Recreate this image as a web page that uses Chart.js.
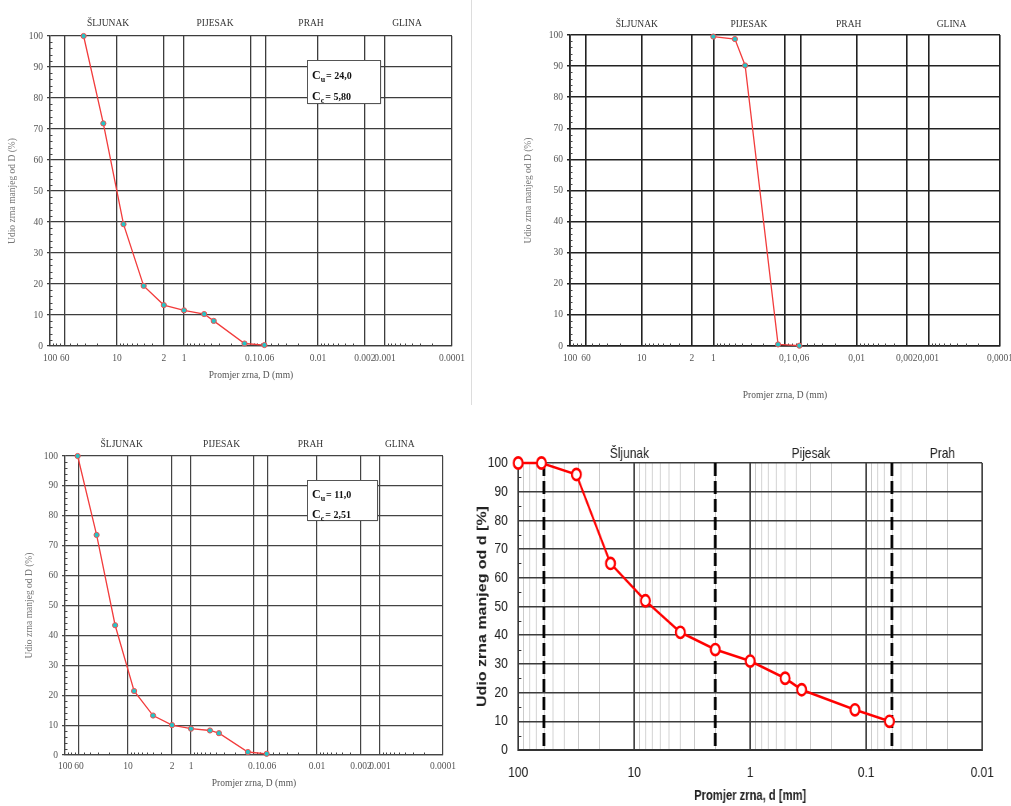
<!DOCTYPE html>
<html>
<head>
<meta charset="utf-8">
<script src="https://cdn.jsdelivr.net/npm/chart.js@4.4.1/dist/chart.umd.min.js"></script>
<style>
  body { margin: 0; background: #fff; width: 1011px; height: 806px; position: relative; overflow: hidden; }
  .pane { position: absolute; }
  #sep { position: absolute; left: 471px; top: 0; width: 1px; height: 405px; background: #ddd; }
  #paneD { left: 475px; top: 430px; transform: scaleX(0.8); transform-origin: 0 0; }
</style>
</head>
<body>
<div class="pane" style="left:0;top:0"><canvas id="c1" width="470" height="400"></canvas></div>
<div id="sep"></div>
<div class="pane" style="left:500px;top:0"><canvas id="c2" width="511" height="410"></canvas></div>
<div class="pane" style="left:0;top:420px"><canvas id="c3" width="470" height="386"></canvas></div>
<div class="pane" id="paneD"><canvas id="c4" width="670" height="376"></canvas></div>
<script>
// sieve sizes (mm) and percent passing for each sample
const sieve1 = [31.5, 16, 8, 4, 2, 1, 0.5, 0.36, 0.125, 0.063];
const pass1 = [100, 71.8, 39.3, 19.4, 13.2, 11.5, 10.3, 8.1, 0.8, 0.3];

const sieve2 = [1, 0.5, 0.36, 0.125, 0.063];
const pass2 = [99.5, 98.7, 90.2, 0.5, 0.1];

const sieve3 = [63, 31.5, 16, 8, 4, 2, 1, 0.5, 0.36, 0.125, 0.063];
const pass3 = [100, 73.6, 43.4, 21.4, 13.2, 10.0, 8.8, 8.2, 7.3, 1.0, 0.4];

const sieve4 = [100, 63, 31.5, 16, 8, 4, 2, 1, 0.5, 0.36, 0.125, 0.063];
const pass4 = [100, 100, 96, 65, 52, 41, 35, 31, 25, 21, 14, 10];

// axis ticks
const xTicks = [100, 60, 10, 2, 1, 0.1, 0.06, 0.01, 0.002, 0.001, 0.0001];
const xLabelsDot = ['100', '60', '10', '2', '1', '0.1', '0.06', '0.01', '0.002', '0.001', '0.0001'];
const xLabelsComma = ['100', '60', '10', '2', '1', '0,1', '0,06', '0,01', '0,002', '0,001', '0,0001'];
const yTicks = [0, 10, 20, 30, 40, 50, 60, 70, 80, 90, 100];
const decadesD = [100, 10, 1, 0.1, 0.01];
const decadeLabelsD = ['100', '10', '1', '0.1', '0.01'];

// soil fractions
const zonesUpper = ['ŠLJUNAK', 'PIJESAK', 'PRAH', 'GLINA'];
const zonesD = ['Šljunak', 'Pijesak', 'Prah'];
const boundsD = [60, 2, 0.06];

// uniformity / curvature coefficients
const coef1 = ['24,0', '5,80'];
const coef3 = ['11,0', '2,51'];

const SERIF = '"Liberation Serif", "Times New Roman", serif';
const SANS = '"Liberation Sans", Arial, sans-serif';

// small log ticks between the labelled grid lines
function minorLog(lo, hi, skip) {
  const out = [];
  for (let e = Math.floor(Math.log10(lo)); e < Math.log10(hi); e++) {
    for (let k = 2; k <= 9; k++) {
      const v = k * Math.pow(10, e);
      if (v > lo && v < hi && !skip.some(s => Math.abs(s - v) / s < 1e-6)) out.push(v);
    }
  }
  return out;
}

const decor = {
  id: 'decor',
  beforeDatasetsDraw(chart, args, o) {
    const { ctx, chartArea: a, scales: { x, y } } = chart;
    ctx.save();
    ctx.strokeStyle = o.tickColor;
    ctx.lineWidth = 1;
    ctx.beginPath();
    (o.yMinor || []).forEach(v => {
      const py = Math.round(y.getPixelForValue(v)) + 0.5;
      ctx.moveTo(a.left, py);
      ctx.lineTo(a.left + o.tickLen, py);
    });
    (o.xMinor || []).forEach(v => {
      const px = Math.round(x.getPixelForValue(v)) + 0.5;
      ctx.moveTo(px, a.bottom);
      ctx.lineTo(px, a.bottom - o.tickLen);
    });
    ctx.stroke();
    if (o.dashed) {
      ctx.strokeStyle = '#000';
      ctx.lineWidth = o.dashWidth;
      ctx.setLineDash(o.dash);
      ctx.beginPath();
      o.dashed.forEach(v => {
        const px = x.getPixelForValue(v);
        ctx.moveTo(px, a.top);
        ctx.lineTo(px, a.bottom);
      });
      ctx.stroke();
    }
    ctx.restore();
  },
  afterDraw(chart, args, o) {
    const { ctx, chartArea: a, scales: { x } } = chart;
    ctx.save();
    ctx.font = o.zoneFont;
    ctx.fillStyle = o.zoneColor;
    ctx.textAlign = 'center';
    ctx.textBaseline = 'middle';
    o.zones.forEach((name, i) => ctx.fillText(name, x.getPixelForValue(o.zoneAt[i]), a.top - o.zoneGap));

    const c = o.coef;
    if (c) {
      const bx = Math.round(a.left + c.fx * (a.right - a.left));
      const by = Math.round(a.top + c.fy * (a.bottom - a.top));
      ctx.shadowColor = 'rgba(0,0,0,0.4)';
      ctx.shadowOffsetX = 1;
      ctx.shadowOffsetY = 1;
      ctx.shadowBlur = 1;
      ctx.fillStyle = '#fff';
      ctx.fillRect(bx, by, c.w, c.h);
      ctx.shadowColor = 'transparent';
      ctx.strokeStyle = '#555';
      ctx.lineWidth = 1;
      ctx.strokeRect(bx + 0.5, by + 0.5, c.w, c.h);
      ctx.fillStyle = '#111';
      ctx.textAlign = 'left';
      ctx.textBaseline = 'alphabetic';
      [['u', c.values[0]], ['c', c.values[1]]].forEach(([sub, val], i) => {
        const ty = by + c.rowY[i];
        let tx = bx + 5;
        ctx.font = 'bold 12px ' + SERIF;
        ctx.fillText('C', tx, ty);
        tx += ctx.measureText('C').width;
        ctx.font = 'bold 8px ' + SERIF;
        ctx.fillText(sub, tx, ty + 3);
        tx += ctx.measureText(sub).width + 1;
        ctx.font = 'bold 10px ' + SERIF;
        ctx.fillText('= ' + val, tx, ty);
      });
    }
    ctx.restore();
  }
};

// serif-style sieve chart (first three panels)
function sieveChart(id, g) {
  const font = { family: SERIF, size: 9.5 };
  return new Chart(document.getElementById(id), {
    type: 'line',
    data: {
      datasets: [{
        data: g.sieve.map((d, i) => ({ x: d, y: g.pass[i] })),
        borderColor: '#f23c3c',
        borderWidth: 1.3,
        pointRadius: 2.6,
        pointBackgroundColor: '#25c4c6',
        pointBorderColor: '#f05050',
        pointBorderWidth: 1,
        tension: 0,
        clip: false
      }]
    },
    options: {
      responsive: false,
      animation: false,
      events: [],
      layout: { padding: { top: g.padTop, right: g.padRight, bottom: 0, left: 0 }, autoPadding: false },
      plugins: {
        legend: { display: false },
        tooltip: { enabled: false },
        decor: {
          tickColor: '#444', tickLen: 2.5,
          yMinor: yTicks.slice(0, -1).flatMap(v => [v + 2, v + 4, v + 6, v + 8]),
          xMinor: minorLog(0.0001, 100, xTicks),
          zones: zonesUpper, zoneAt: g.zoneAt, zoneGap: g.zoneGap,
          zoneFont: '9.5px ' + SERIF, zoneColor: '#333',
          coef: g.coef
        }
      },
      scales: {
        x: {
          type: 'logarithmic', reverse: true, min: 0.0001, max: 100,
          afterBuildTicks: s => { s.ticks = xTicks.map(v => ({ value: v })); },
          afterFit: s => { s.height = g.xHeight; s.paddingLeft = 0; s.paddingRight = 0; },
          ticks: {
            autoSkip: false, maxRotation: 0, minRotation: 0, padding: g.xTickPad,
            font, color: '#555',
            callback: (v, i) => g.xLabels[i]
          },
          grid: { color: g.grid, lineWidth: g.gridWidth, drawTicks: false },
          border: { color: g.grid, width: g.gridWidth },
          title: {
            display: true, text: 'Promjer zrna, D (mm)', font, color: '#555',
            padding: { top: 0, bottom: g.xTitlePad }
          }
        },
        y: {
          min: 0, max: 100,
          afterBuildTicks: s => { s.ticks = yTicks.map(v => ({ value: v })); },
          afterFit: s => { s.width = g.yWidth; s.paddingTop = 0; s.paddingBottom = 0; },
          ticks: { padding: 4, font, color: '#555' },
          grid: { color: g.grid, lineWidth: g.gridWidth, drawTicks: true, tickLength: 3 },
          border: { color: g.grid, width: g.gridWidth },
          title: {
            display: true, text: 'Udio zrna manjeg od D (%)', font, color: '#777',
            padding: { top: g.yTitlePad, bottom: 0 }
          }
        }
      }
    },
    plugins: [decor]
  });
}

sieveChart('c1', {
  sieve: sieve1, pass: pass1, xLabels: xLabelsDot,
  padTop: 36, padRight: 18, yWidth: 50, xHeight: 54,
  xTickPad: 7, xTitlePad: 19, yTitlePad: 7,
  grid: '#3d3d3d', gridWidth: 1.3,
  zoneAt: [13.6, 0.344, 0.0127, 0.00047], zoneGap: 13,
  coef: { fx: 0.639, fy: 0.077, w: 73, h: 43, rowY: [19, 40], values: coef1 }
});

sieveChart('c2', {
  sieve: sieve2, pass: pass2, xLabels: xLabelsComma,
  padTop: 35, padRight: 11, yWidth: 70, xHeight: 64,
  xTickPad: 7, xTitlePad: 9, yTitlePad: 23,
  grid: '#222', gridWidth: 1.6,
  zoneAt: [11.7, 0.318, 0.0129, 0.000475], zoneGap: 11
});

sieveChart('c3', {
  sieve: sieve3, pass: pass3, xLabels: xLabelsDot,
  padTop: 36, padRight: 27, yWidth: 65, xHeight: 51,
  xTickPad: 6, xTitlePad: 17, yTitlePad: 24,
  grid: '#444', gridWidth: 1.2,
  zoneAt: [12.6, 0.327, 0.0127, 0.000486], zoneGap: 12,
  coef: { fx: 0.64, fy: 0.08, w: 70, h: 40, rowY: [18, 38], values: coef3 }
});

// last panel: decades with light 2..9 lines
const ticksD = [];
decadesD.forEach((d, i) => {
  ticksD.push({ value: d, label: decadeLabelsD[i], major: true });
  if (i < decadesD.length - 1) {
    for (let k = 9; k >= 2; k--) ticksD.push({ value: k * d / 10, label: '', major: false });
  }
});

new Chart(document.getElementById('c4'), {
  type: 'line',
  data: {
    datasets: [{
      data: sieve4.map((d, i) => ({ x: d, y: pass4[i] })),
      borderColor: '#ff0000',
      borderWidth: 2.6,
      pointRadius: 5.6,
      pointBackgroundColor: '#fff',
      pointBorderColor: '#ff0000',
      pointBorderWidth: 2.6,
      tension: 0,
      clip: false
    }]
  },
  options: {
    responsive: false,
    animation: false,
    events: [],
    layout: { padding: { top: 33, right: 36, bottom: 0, left: 0 }, autoPadding: false },
    plugins: {
      legend: { display: false },
      tooltip: { enabled: false },
      decor: {
        tickColor: '#333', tickLen: 4,
        yMinor: yTicks.slice(0, -1).map(v => v + 5),
        dashed: boundsD, dash: [13, 5], dashWidth: 3.4,
        zones: zonesD, zoneAt: [11, 0.3, 0.022], zoneGap: 9,
        zoneFont: '15px ' + SANS, zoneColor: '#222'
      }
    },
    scales: {
      x: {
        type: 'logarithmic', reverse: true, min: 0.01, max: 100,
        afterBuildTicks: s => { s.ticks = ticksD.map(t => ({ value: t.value })); },
        afterFit: s => { s.height = 56; s.paddingLeft = 0; s.paddingRight = 0; },
        ticks: {
          autoSkip: false, maxRotation: 0, minRotation: 0, padding: 14,
          font: { family: SANS, size: 15 }, color: '#222',
          callback: (v, i) => ticksD[i].label
        },
        grid: {
          drawTicks: false,
          color: c => (ticksD[c.index] && ticksD[c.index].major) ? '#333' : '#c4c4c4',
          lineWidth: c => (ticksD[c.index] && ticksD[c.index].major) ? 1.9 : 1
        },
        border: { color: '#333', width: 1.9 },
        title: {
          display: true, text: 'Promjer zrna, d [mm]',
          font: { family: SANS, size: 14, weight: 'bold' }, color: '#222',
          padding: { top: 0, bottom: 1 }
        }
      },
      y: {
        min: 0, max: 100,
        afterBuildTicks: s => { s.ticks = yTicks.map(v => ({ value: v })); },
        afterFit: s => { s.width = 54; s.paddingTop = 0; s.paddingBottom = 0; },
        ticks: { padding: 13, font: { family: SANS, size: 15 }, color: '#222' },
        grid: { color: '#3c3c3c', lineWidth: 1.6, drawTicks: false },
        border: { color: '#333', width: 1.6 },
        title: {
          display: true, text: 'Udio zrna manjeg od d [%]',
          font: { family: SANS, size: 16, weight: 'bold' }, color: '#222',
          padding: { top: 0, bottom: 0 }
        }
      }
    }
  },
  plugins: [decor]
});
</script>
</body>
</html>
